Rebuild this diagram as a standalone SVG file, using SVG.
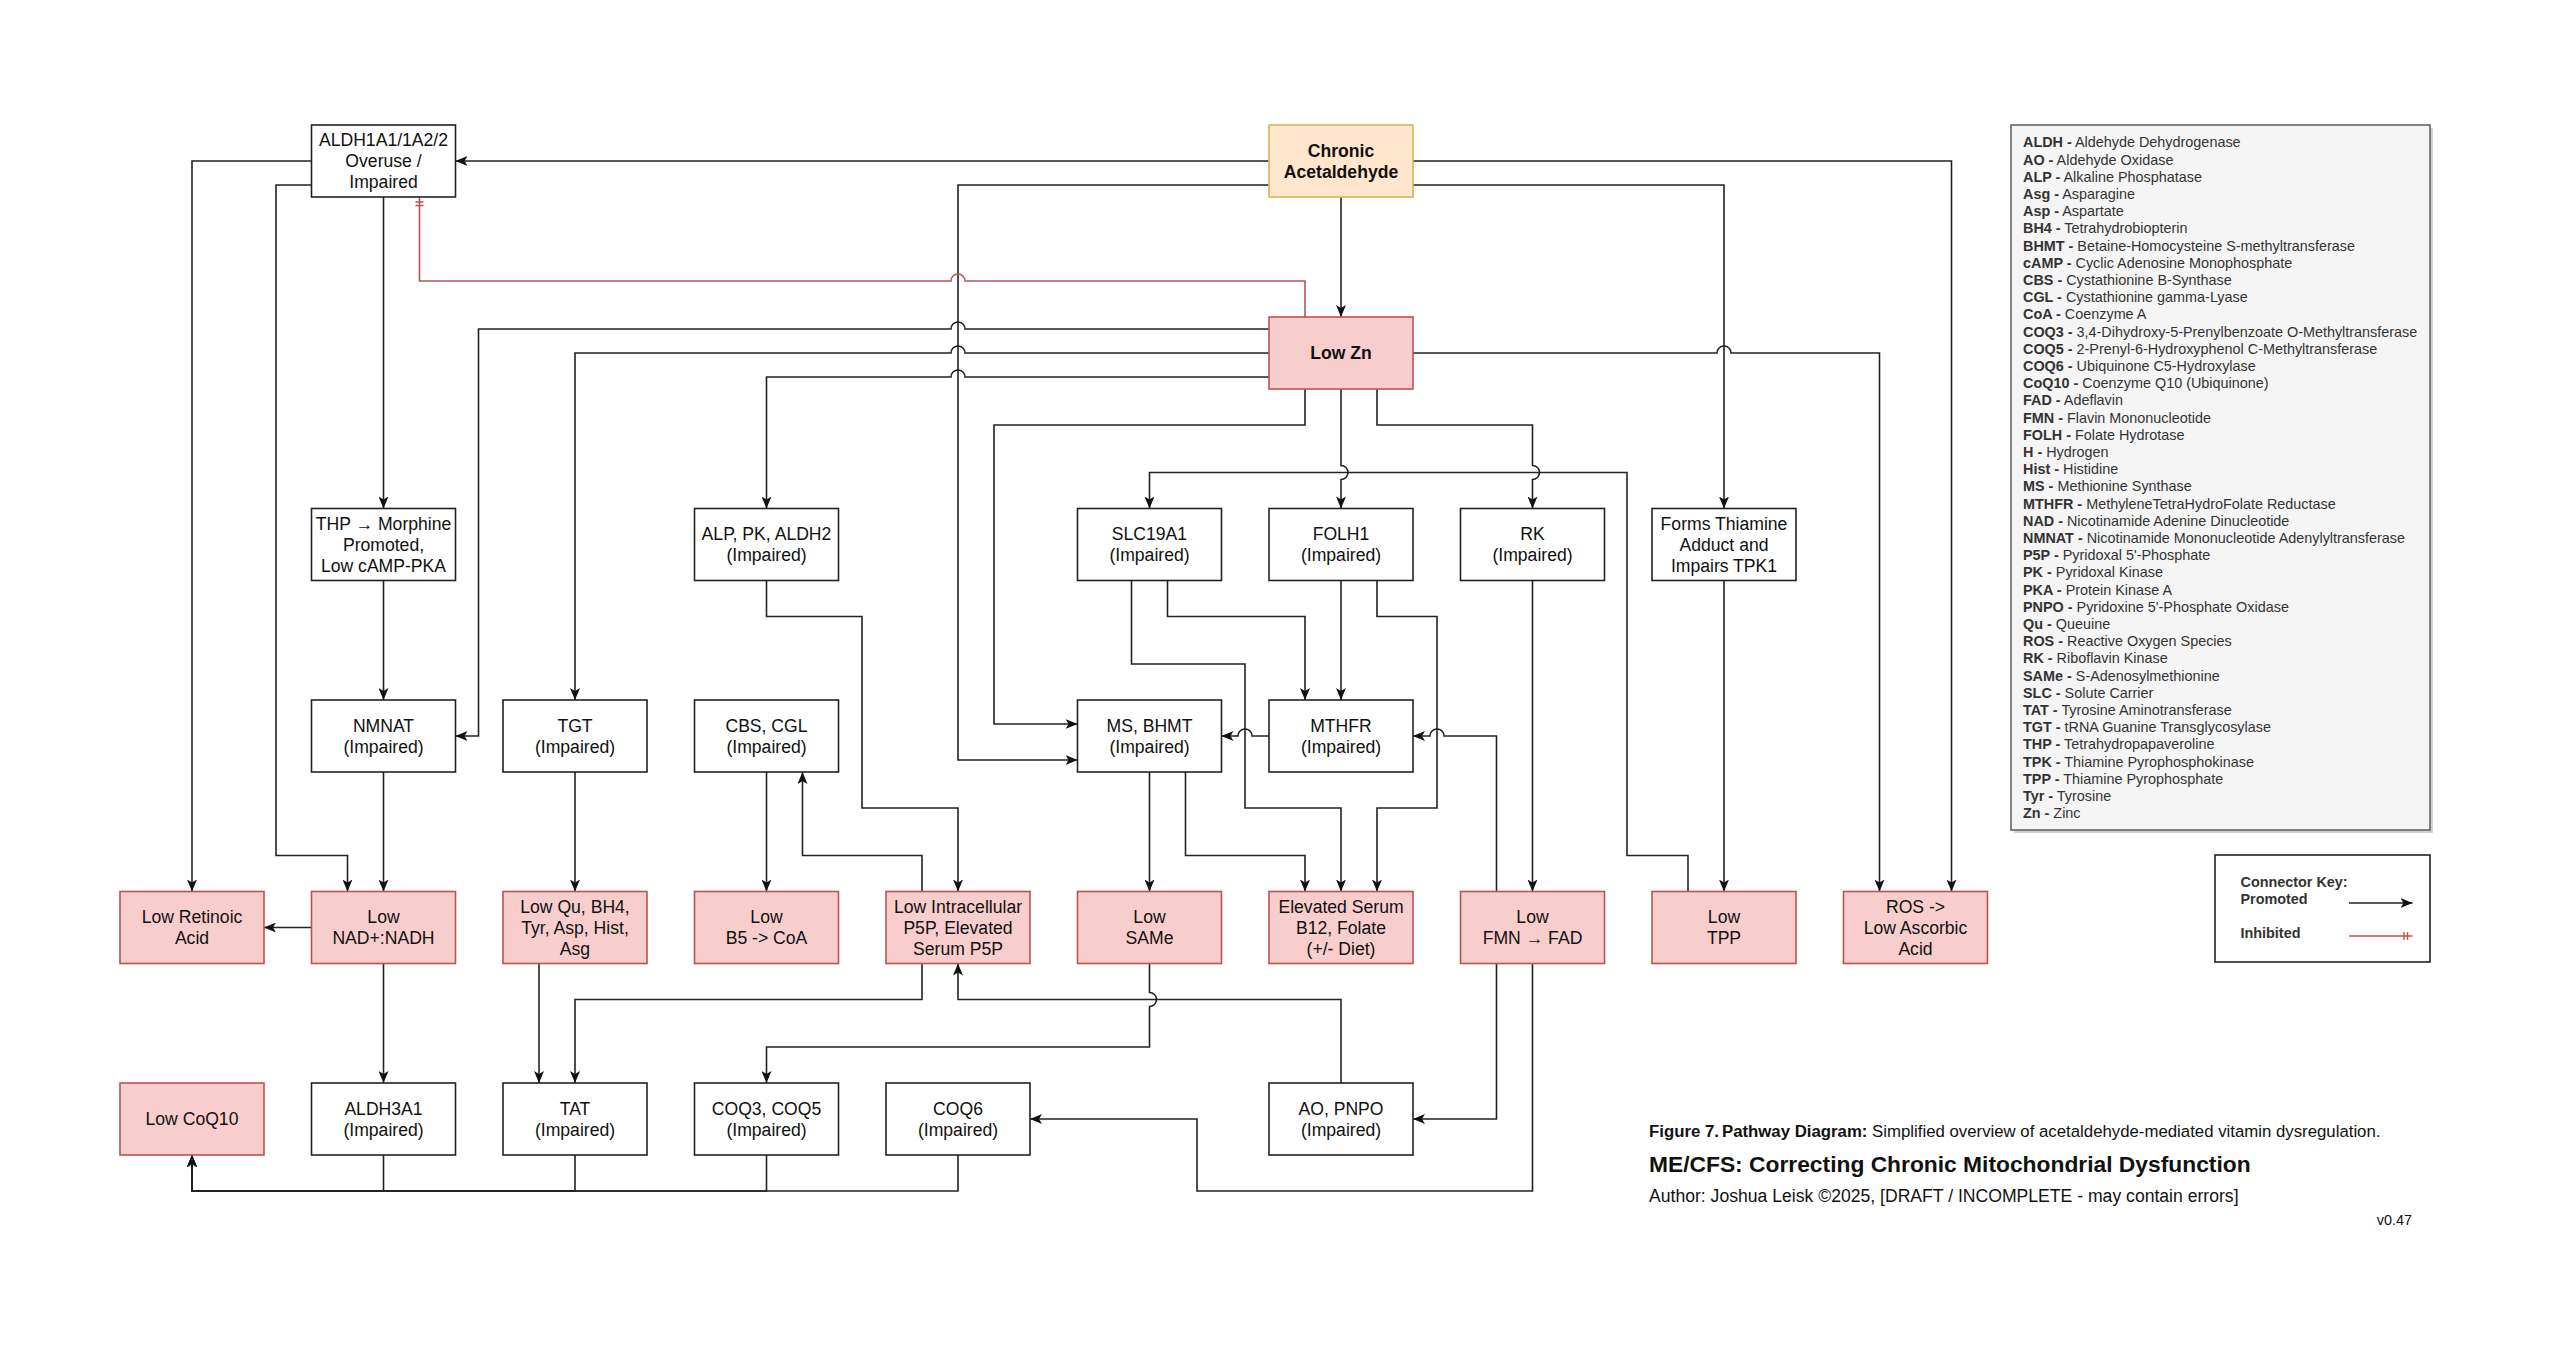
<svg xmlns="http://www.w3.org/2000/svg" width="2560" height="1352" viewBox="0 0 2560 1352">
<style>
.box{fill:#ffffff;stroke:#222;stroke-width:1.6}
.red{fill:#f8cecc;stroke:#b85450;stroke-width:1.6}
.org{fill:#ffe6cc;stroke:#d6b656;stroke-width:1.6}
.t{font-family:"Liberation Sans",Arial,sans-serif;font-size:17.6px;text-anchor:middle;fill:#111}
.bd{font-weight:bold}
.e{fill:none;stroke:#222;stroke-width:1.6;marker-end:url(#arr)}
.inh{fill:none;stroke:#b85450;stroke-width:1.6;marker-end:url(#bar)}
.lg{font-family:"Liberation Sans",Arial,sans-serif;font-size:14.4px;fill:#333}
.lg tspan.k{font-weight:bold}
.cap{font-family:"Liberation Sans",Arial,sans-serif;fill:#111}
</style>
<defs>
<marker id="arr" viewBox="0 0 12 10" refX="12" refY="5" markerWidth="12" markerHeight="10" markerUnits="userSpaceOnUse" orient="auto">
<path d="M0,0 L12,5 L0,10 L3,5 Z" fill="#111"/>
</marker>
<marker id="bar" viewBox="0 0 12 10" refX="12" refY="5" markerWidth="12" markerHeight="10" markerUnits="userSpaceOnUse" orient="auto">
<path d="M3.5,1 L3.5,9 M7,1 L7,9" stroke="#b85450" stroke-width="1.4" fill="none"/>
</marker>
</defs>
<rect width="2560" height="1352" fill="#ffffff"/>

<g id="connectors">
<path class="e" d="M1269,161 L455.5,161"/>
<path class="e" d="M1413,161 L1951.5,161 L1951.5,891.5"/>
<path class="e" d="M1413,185 L1724,185 L1724,508.5"/>
<path class="e" d="M1269,185 L958,185 L958,760 L1077.5,760"/>
<path class="e" d="M1341,197 L1341,317"/>
<path class="inh" d="M1305,317 L1305,281 L965,281 A7,7 0 0 0 951,281 L419.5,281 L419.5,197"/>
<path class="e" d="M1269,329 L965,329 A7,7 0 0 0 951,329 L478.5,329 L478.5,736 L455.5,736"/>
<path class="e" d="M1269,353 L965,353 A7,7 0 0 0 951,353 L575,353 L575,700"/>
<path class="e" d="M1269,377 L965,377 A7,7 0 0 0 951,377 L766.5,377 L766.5,508.5"/>
<path class="e" d="M1305,389 L1305,425 L994,425 L994,724 L1077.5,724"/>
<path class="e" d="M1341,389 L1341,465.5 A7,7 0 0 1 1341,479.5 L1341,508.5"/>
<path class="e" d="M1377,389 L1377,425 L1532.5,425 L1532.5,465.5 A7,7 0 0 1 1532.5,479.5 L1532.5,508.5"/>
<path class="e" d="M1413,353 L1717,353 A7,7 0 0 1 1731,353 L1879.5,353 L1879.5,891.5"/>
<path class="e" d="M1688,891.5 L1688,855.5 L1627,855.5 L1627,472.5 L1149.5,472.5 L1149.5,508.5"/>
<path class="e" d="M383.5,197 L383.5,508.5"/>
<path class="e" d="M311.5,161 L192,161 L192,891.5"/>
<path class="e" d="M311.5,185 L276,185 L276,855.5 L347.5,855.5 L347.5,891.5"/>
<path class="e" d="M383.5,580.5 L383.5,700"/>
<path class="e" d="M383.5,772 L383.5,891.5"/>
<path class="e" d="M311.5,927.5 L264,927.5"/>
<path class="e" d="M383.5,963.5 L383.5,1083"/>
<path class="e" d="M575,772 L575,891.5"/>
<path class="e" d="M539,963.5 L539,1083"/>
<path class="e" d="M922,963.5 L922,999.5 L575,999.5 L575,1083"/>
<path class="e" d="M922,891.5 L922,855.5 L802.5,855.5 L802.5,772"/>
<path class="e" d="M766.5,580.5 L766.5,616.5 L862,616.5 L862,808 L958,808 L958,891.5"/>
<path class="e" d="M766.5,772 L766.5,891.5"/>
<path class="e" d="M1149.5,963.5 L1149.5,992.5 A7,7 0 0 1 1149.5,1006.5 L1149.5,1047 L766.5,1047 L766.5,1083"/>
<path class="e" d="M1341,1083 L1341,999.5 L958,999.5 L958,963.5"/>
<path class="e" d="M1149.5,772 L1149.5,891.5"/>
<path class="e" d="M1185.5,772 L1185.5,855.5 L1305,855.5 L1305,891.5"/>
<path class="e" d="M1131.5,580.5 L1131.5,664 L1245,664 L1245,808 L1341,808 L1341,891.5"/>
<path class="e" d="M1167.5,580.5 L1167.5,616.5 L1305,616.5 L1305,700"/>
<path class="e" d="M1341,580.5 L1341,700"/>
<path class="e" d="M1377,580.5 L1377,616.5 L1437,616.5 L1437,808 L1377,808 L1377,891.5"/>
<path class="e" d="M1269,736 L1252,736 A7,7 0 0 0 1238,736 L1221.5,736"/>
<path class="e" d="M1496.5,891.5 L1496.5,736 L1444,736 A7,7 0 0 0 1430,736 L1413,736"/>
<path class="e" d="M1532.5,580.5 L1532.5,891.5"/>
<path class="e" d="M1724,580.5 L1724,891.5"/>
<path class="e" d="M1496.5,963.5 L1496.5,1119 L1413,1119"/>
<path class="e" d="M1532.5,963.5 L1532.5,1191 L1197,1191 L1197,1119 L1030,1119"/>
<path class="e" d="M383.5,1155 L383.5,1191 L192,1191 L192,1155"/>
<path class="e" d="M575,1155 L575,1191 L192,1191 L192,1155"/>
<path class="e" d="M766.5,1155 L766.5,1191 L192,1191 L192,1155"/>
<path class="e" d="M958,1155 L958,1191 L192,1191 L192,1155"/>
</g>

<g id="n_aldh"><rect class="box" x="311.5" y="125" width="144" height="72"/><text class="t"><tspan x="383.5" y="146.1">ALDH1A1/1A2/2</tspan><tspan x="383.5" y="167.2">Overuse /</tspan><tspan x="383.5" y="188.3">Impaired</tspan></text></g>
<g id="n_chronic"><rect class="org" x="1269" y="125" width="144" height="72"/><text class="t bd"><tspan x="1341" y="156.6">Chronic</tspan><tspan x="1341" y="177.7">Acetaldehyde</tspan></text></g>
<g id="n_lowzn"><rect class="red" x="1269" y="317" width="144" height="72"/><text class="t bd" x="1341" y="359.2">Low Zn</text></g>

<g id="n_thp"><rect class="box" x="311.5" y="508.5" width="144" height="72"/><text class="t"><tspan x="383.5" y="529.6">THP → Morphine</tspan><tspan x="383.5" y="550.7">Promoted,</tspan><tspan x="383.5" y="571.8">Low cAMP-PKA</tspan></text></g>
<g id="n_alp"><rect class="box" x="694.5" y="508.5" width="144" height="72"/><text class="t"><tspan x="766.5" y="540.1">ALP, PK, ALDH2</tspan><tspan x="766.5" y="561.2">(Impaired)</tspan></text></g>
<g id="n_slc"><rect class="box" x="1077.5" y="508.5" width="144" height="72"/><text class="t"><tspan x="1149.5" y="540.1">SLC19A1</tspan><tspan x="1149.5" y="561.2">(Impaired)</tspan></text></g>
<g id="n_folh"><rect class="box" x="1269" y="508.5" width="144" height="72"/><text class="t"><tspan x="1341" y="540.1">FOLH1</tspan><tspan x="1341" y="561.2">(Impaired)</tspan></text></g>
<g id="n_rk"><rect class="box" x="1460.5" y="508.5" width="144" height="72"/><text class="t"><tspan x="1532.5" y="540.1">RK</tspan><tspan x="1532.5" y="561.2">(Impaired)</tspan></text></g>
<g id="n_forms"><rect class="box" x="1652" y="508.5" width="144" height="72"/><text class="t"><tspan x="1724" y="529.6">Forms Thiamine</tspan><tspan x="1724" y="550.7">Adduct and</tspan><tspan x="1724" y="571.8">Impairs TPK1</tspan></text></g>

<g id="n_nmnat"><rect class="box" x="311.5" y="700" width="144" height="72"/><text class="t"><tspan x="383.5" y="731.6">NMNAT</tspan><tspan x="383.5" y="752.7">(Impaired)</tspan></text></g>
<g id="n_tgt"><rect class="box" x="503" y="700" width="144" height="72"/><text class="t"><tspan x="575" y="731.6">TGT</tspan><tspan x="575" y="752.7">(Impaired)</tspan></text></g>
<g id="n_cbs"><rect class="box" x="694.5" y="700" width="144" height="72"/><text class="t"><tspan x="766.5" y="731.6">CBS, CGL</tspan><tspan x="766.5" y="752.7">(Impaired)</tspan></text></g>
<g id="n_ms"><rect class="box" x="1077.5" y="700" width="144" height="72"/><text class="t"><tspan x="1149.5" y="731.6">MS, BHMT</tspan><tspan x="1149.5" y="752.7">(Impaired)</tspan></text></g>
<g id="n_mthfr"><rect class="box" x="1269" y="700" width="144" height="72"/><text class="t"><tspan x="1341" y="731.6">MTHFR</tspan><tspan x="1341" y="752.7">(Impaired)</tspan></text></g>

<g id="n_retinoic"><rect class="red" x="120" y="891.5" width="144" height="72"/><text class="t"><tspan x="192" y="923.1">Low Retinoic</tspan><tspan x="192" y="944.2">Acid</tspan></text></g>
<g id="n_nad"><rect class="red" x="311.5" y="891.5" width="144" height="72"/><text class="t"><tspan x="383.5" y="923.1">Low</tspan><tspan x="383.5" y="944.2">NAD+:NADH</tspan></text></g>
<g id="n_qu"><rect class="red" x="503" y="891.5" width="144" height="72"/><text class="t"><tspan x="575" y="912.6">Low Qu, BH4,</tspan><tspan x="575" y="933.7">Tyr, Asp, Hist,</tspan><tspan x="575" y="954.8">Asg</tspan></text></g>
<g id="n_b5"><rect class="red" x="694.5" y="891.5" width="144" height="72"/><text class="t"><tspan x="766.5" y="923.1">Low</tspan><tspan x="766.5" y="944.2">B5 -&gt; CoA</tspan></text></g>
<g id="n_p5p"><rect class="red" x="886" y="891.5" width="144" height="72"/><text class="t"><tspan x="958" y="912.6">Low Intracellular</tspan><tspan x="958" y="933.7">P5P, Elevated</tspan><tspan x="958" y="954.8">Serum P5P</tspan></text></g>
<g id="n_same"><rect class="red" x="1077.5" y="891.5" width="144" height="72"/><text class="t"><tspan x="1149.5" y="923.1">Low</tspan><tspan x="1149.5" y="944.2">SAMe</tspan></text></g>
<g id="n_elev"><rect class="red" x="1269" y="891.5" width="144" height="72"/><text class="t"><tspan x="1341" y="912.6">Elevated Serum</tspan><tspan x="1341" y="933.7">B12, Folate</tspan><tspan x="1341" y="954.8">(+/- Diet)</tspan></text></g>
<g id="n_fmn"><rect class="red" x="1460.5" y="891.5" width="144" height="72"/><text class="t"><tspan x="1532.5" y="923.1">Low</tspan><tspan x="1532.5" y="944.2">FMN → FAD</tspan></text></g>
<g id="n_tpp"><rect class="red" x="1652" y="891.5" width="144" height="72"/><text class="t"><tspan x="1724" y="923.1">Low</tspan><tspan x="1724" y="944.2">TPP</tspan></text></g>
<g id="n_ros"><rect class="red" x="1843.5" y="891.5" width="144" height="72"/><text class="t"><tspan x="1915.5" y="912.6">ROS -&gt;</tspan><tspan x="1915.5" y="933.7">Low Ascorbic</tspan><tspan x="1915.5" y="954.8">Acid</tspan></text></g>

<g id="n_coq10"><rect class="red" x="120" y="1083" width="144" height="72"/><text class="t" x="192" y="1125.2">Low CoQ10</text></g>
<g id="n_aldh3"><rect class="box" x="311.5" y="1083" width="144" height="72"/><text class="t"><tspan x="383.5" y="1114.6">ALDH3A1</tspan><tspan x="383.5" y="1135.7">(Impaired)</tspan></text></g>
<g id="n_tat"><rect class="box" x="503" y="1083" width="144" height="72"/><text class="t"><tspan x="575" y="1114.6">TAT</tspan><tspan x="575" y="1135.7">(Impaired)</tspan></text></g>
<g id="n_coq35"><rect class="box" x="694.5" y="1083" width="144" height="72"/><text class="t"><tspan x="766.5" y="1114.6">COQ3, COQ5</tspan><tspan x="766.5" y="1135.7">(Impaired)</tspan></text></g>
<g id="n_coq6"><rect class="box" x="886" y="1083" width="144" height="72"/><text class="t"><tspan x="958" y="1114.6">COQ6</tspan><tspan x="958" y="1135.7">(Impaired)</tspan></text></g>
<g id="n_ao"><rect class="box" x="1269" y="1083" width="144" height="72"/><text class="t"><tspan x="1341" y="1114.6">AO, PNPO</tspan><tspan x="1341" y="1135.7">(Impaired)</tspan></text></g>

<g id="legend">
<rect x="2014" y="128" width="419" height="705" fill="#b0b0b0" opacity="0.6"/>
<rect x="2011" y="125" width="419" height="705" fill="#f5f5f5" stroke="#666666" stroke-width="1.6"/>
<text class="lg" x="2023" y="147.3"><tspan class="k">ALDH -</tspan> Aldehyde Dehydrogenase</text>
<text class="lg" x="2023" y="164.5"><tspan class="k">AO -</tspan> Aldehyde Oxidase</text>
<text class="lg" x="2023" y="181.7"><tspan class="k">ALP -</tspan> Alkaline Phosphatase</text>
<text class="lg" x="2023" y="198.9"><tspan class="k">Asg -</tspan> Asparagine</text>
<text class="lg" x="2023" y="216.1"><tspan class="k">Asp -</tspan> Aspartate</text>
<text class="lg" x="2023" y="233.3"><tspan class="k">BH4 -</tspan> Tetrahydrobiopterin</text>
<text class="lg" x="2023" y="250.5"><tspan class="k">BHMT -</tspan> Betaine-Homocysteine S-methyltransferase</text>
<text class="lg" x="2023" y="267.7"><tspan class="k">cAMP -</tspan> Cyclic Adenosine Monophosphate</text>
<text class="lg" x="2023" y="284.9"><tspan class="k">CBS -</tspan> Cystathionine B-Synthase</text>
<text class="lg" x="2023" y="302.1"><tspan class="k">CGL -</tspan> Cystathionine gamma-Lyase</text>
<text class="lg" x="2023" y="319.3"><tspan class="k">CoA -</tspan> Coenzyme A</text>
<text class="lg" x="2023" y="336.5"><tspan class="k">COQ3 -</tspan> 3,4-Dihydroxy-5-Prenylbenzoate O-Methyltransferase</text>
<text class="lg" x="2023" y="353.7"><tspan class="k">COQ5 -</tspan> 2-Prenyl-6-Hydroxyphenol C-Methyltransferase</text>
<text class="lg" x="2023" y="370.9"><tspan class="k">COQ6 -</tspan> Ubiquinone C5-Hydroxylase</text>
<text class="lg" x="2023" y="388.1"><tspan class="k">CoQ10 -</tspan> Coenzyme Q10 (Ubiquinone)</text>
<text class="lg" x="2023" y="405.3"><tspan class="k">FAD -</tspan> Adeflavin</text>
<text class="lg" x="2023" y="422.5"><tspan class="k">FMN -</tspan> Flavin Mononucleotide</text>
<text class="lg" x="2023" y="439.7"><tspan class="k">FOLH -</tspan> Folate Hydrotase</text>
<text class="lg" x="2023" y="456.9"><tspan class="k">H -</tspan> Hydrogen</text>
<text class="lg" x="2023" y="474.1"><tspan class="k">Hist -</tspan> Histidine</text>
<text class="lg" x="2023" y="491.3"><tspan class="k">MS -</tspan> Methionine Synthase</text>
<text class="lg" x="2023" y="508.5"><tspan class="k">MTHFR -</tspan> MethyleneTetraHydroFolate Reductase</text>
<text class="lg" x="2023" y="525.7"><tspan class="k">NAD -</tspan> Nicotinamide Adenine Dinucleotide</text>
<text class="lg" x="2023" y="542.9"><tspan class="k">NMNAT -</tspan> Nicotinamide Mononucleotide Adenylyltransferase</text>
<text class="lg" x="2023" y="560.1"><tspan class="k">P5P -</tspan> Pyridoxal 5'-Phosphate</text>
<text class="lg" x="2023" y="577.3"><tspan class="k">PK -</tspan> Pyridoxal Kinase</text>
<text class="lg" x="2023" y="594.5"><tspan class="k">PKA -</tspan> Protein Kinase A</text>
<text class="lg" x="2023" y="611.7"><tspan class="k">PNPO -</tspan> Pyridoxine 5'-Phosphate Oxidase</text>
<text class="lg" x="2023" y="628.9"><tspan class="k">Qu -</tspan> Queuine</text>
<text class="lg" x="2023" y="646.1"><tspan class="k">ROS -</tspan> Reactive Oxygen Species</text>
<text class="lg" x="2023" y="663.3"><tspan class="k">RK -</tspan> Riboflavin Kinase</text>
<text class="lg" x="2023" y="680.5"><tspan class="k">SAMe -</tspan> S-Adenosylmethionine</text>
<text class="lg" x="2023" y="697.7"><tspan class="k">SLC -</tspan> Solute Carrier</text>
<text class="lg" x="2023" y="714.9"><tspan class="k">TAT -</tspan> Tyrosine Aminotransferase</text>
<text class="lg" x="2023" y="732.1"><tspan class="k">TGT -</tspan> tRNA Guanine Transglycosylase</text>
<text class="lg" x="2023" y="749.3"><tspan class="k">THP -</tspan> Tetrahydropapaveroline</text>
<text class="lg" x="2023" y="766.5"><tspan class="k">TPK -</tspan> Thiamine Pyrophosphokinase</text>
<text class="lg" x="2023" y="783.7"><tspan class="k">TPP -</tspan> Thiamine Pyrophosphate</text>
<text class="lg" x="2023" y="800.9"><tspan class="k">Tyr -</tspan> Tyrosine</text>
<text class="lg" x="2023" y="818.1"><tspan class="k">Zn -</tspan> Zinc</text>
</g>

<g id="connector_key">
<rect x="2215" y="855" width="215" height="107" fill="#ffffff" stroke="#222" stroke-width="1.6"/>
<text class="lg bd" x="2240.5" y="887" fill="#111" font-weight="bold">Connector Key:</text>
<text class="lg bd" x="2240.5" y="904" fill="#111" font-weight="bold">Promoted</text>
<text class="lg bd" x="2240.5" y="938" fill="#111" font-weight="bold">Inhibited</text>
<path class="e" d="M2349,903 L2412.5,903"/>
<path class="inh" d="M2349,936 L2412.5,936"/>
</g>

<g id="caption">
<text class="cap" x="1649" y="1137" font-size="16.8"><tspan font-weight="bold">Figure 7.</tspan><tspan font-weight="bold" dx="3">Pathway Diagram:</tspan> Simplified overview of acetaldehyde-mediated vitamin dysregulation.</text>
<text class="cap" x="1649" y="1171.5" font-size="22.8" font-weight="bold">ME/CFS: Correcting Chronic Mitochondrial Dysfunction</text>
<text class="cap" x="1649" y="1202" font-size="17.6">Author: Joshua Leisk ©2025, [DRAFT / INCOMPLETE - may contain errors]</text>
<text class="cap" x="2412" y="1224.5" font-size="14.4" text-anchor="end">v0.47</text>
</g>
</svg>
